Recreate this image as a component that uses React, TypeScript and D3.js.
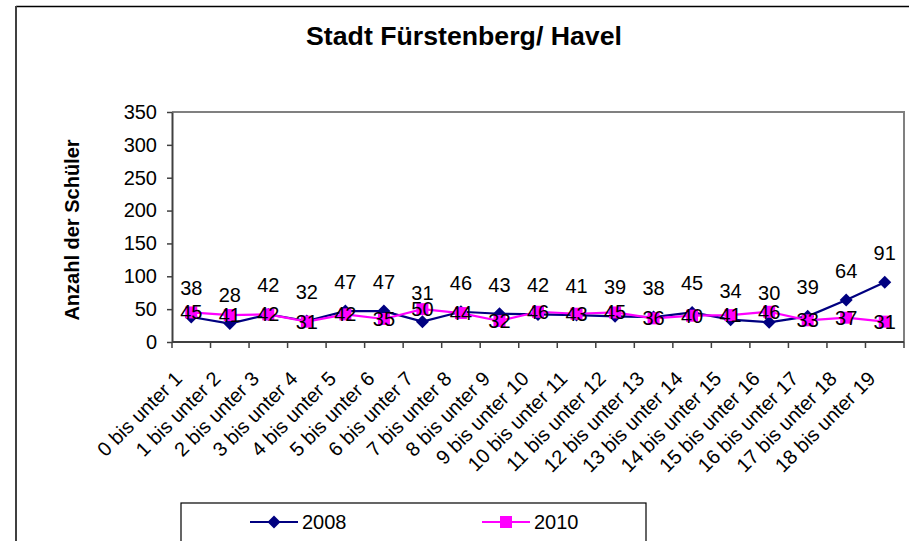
import { useEffect, useRef } from 'react'
import * as d3 from 'd3'

const categories = [
  '0 bis unter 1',
  '1 bis unter 2',
  '2 bis unter 3',
  '3 bis unter 4',
  '4 bis unter 5',
  '5 bis unter 6',
  '6 bis unter 7',
  '7 bis unter 8',
  '8 bis unter 9',
  '9 bis unter 10',
  '10 bis unter 11',
  '11 bis unter 12',
  '12 bis unter 13',
  '13 bis unter 14',
  '14 bis unter 15',
  '15 bis unter 16',
  '16 bis unter 17',
  '17 bis unter 18',
  '18 bis unter 19',
]
const values2008 = [38, 28, 42, 32, 47, 47, 31, 46, 43, 42, 41, 39, 38, 45, 34, 30, 39, 64, 91]
const values2010 = [45, 41, 42, 31, 42, 35, 50, 44, 32, 46, 43, 45, 36, 40, 41, 46, 33, 37, 31]
const yTicks = [0, 50, 100, 150, 200, 250, 300, 350]
const seriesNames = ['2008', '2010']

const FONT = '"Liberation Sans", Arial, Helvetica, sans-serif'
const NAVY = '#000080'
const MAGENTA = '#ff00ff'

export default function App() {
  const ref = useRef<SVGSVGElement>(null)

  useEffect(() => {
    if (!ref.current) return
    const width = 909
    const height = 541
    const plot = { left: 172, right: 904, top: 112, bottom: 342 }

    const svg = d3.select(ref.current)
    svg.selectAll('*').remove()

    const x = d3.scaleBand<string>().domain(categories).range([plot.left, plot.right])
    const y = d3.scaleLinear().domain([0, 350]).range([plot.bottom, plot.top])
    const cx = (i: number) => (x(categories[i]) as number) + x.bandwidth() / 2

    svg.append('rect').attr('width', width).attr('height', height).attr('fill', '#fff')

    // outer chart frame (cut off at right and bottom)
    svg.append('line').attr('x1', 16).attr('x2', width).attr('y1', 6.5).attr('y2', 6.5)
      .attr('stroke', '#000').attr('stroke-width', 1.5)
    svg.append('line').attr('x1', 16).attr('x2', 16).attr('y1', 6).attr('y2', height)
      .attr('stroke', '#404040').attr('stroke-width', 2)

    svg.append('text')
      .attr('x', 464).attr('y', 45)
      .attr('text-anchor', 'middle')
      .attr('font-family', FONT).attr('font-weight', 'bold').attr('font-size', 26.7)
      .text('Stadt Fürstenberg/ Havel')

    // plot area frame
    svg.append('path')
      .attr('d', `M${plot.left},${plot.top}H${plot.right}V${plot.bottom}`)
      .attr('fill', 'none').attr('stroke', '#808080').attr('stroke-width', 2)

    // y axis
    const yAxis = svg.append('g')
      .attr('transform', `translate(${plot.left},0)`)
      .call(d3.axisLeft(y).tickValues(yTicks).tickSize(5).tickSizeOuter(0).tickPadding(10))
    yAxis.attr('font-family', FONT).attr('font-size', 20)
    yAxis.select('.domain').attr('stroke', '#404040').attr('stroke-width', 2)
    yAxis.selectAll('.tick line').attr('stroke', '#404040').attr('stroke-width', 1.5)
    yAxis.selectAll('.tick text').attr('fill', '#000')

    // x axis: ticks between categories
    const xAxis = svg.append('g')
    xAxis.append('line')
      .attr('x1', plot.left).attr('x2', plot.right).attr('y1', plot.bottom).attr('y2', plot.bottom)
      .attr('stroke', '#404040').attr('stroke-width', 2)
    const bounds = categories.map((c) => x(c) as number).concat([plot.right])
    xAxis.selectAll('line.tick')
      .data(bounds)
      .join('line')
      .attr('class', 'tick')
      .attr('x1', (d) => d).attr('x2', (d) => d)
      .attr('y1', plot.bottom).attr('y2', plot.bottom + 6)
      .attr('stroke', '#404040').attr('stroke-width', 1.5)
    xAxis.selectAll('text')
      .data(categories)
      .join('text')
      .attr('transform', (d, i) => `translate(${cx(i) - 8},380) rotate(-45)`)
      .attr('text-anchor', 'end')
      .attr('font-family', FONT).attr('font-size', 20)
      .text((d) => d)

    // y axis title
    svg.append('text')
      .attr('transform', `translate(72,230) rotate(-90)`)
      .attr('text-anchor', 'middle')
      .attr('dominant-baseline', 'central')
      .attr('font-family', FONT).attr('font-weight', 'bold').attr('font-size', 20)
      .text('Anzahl der Schüler')

    const line = d3.line<number>().x((d, i) => cx(i)).y((d) => y(d))
    const diamond = (px: number, py: number, r: number) =>
      `M${px},${py - r}L${px + r},${py}L${px},${py + r}L${px - r},${py}Z`

    // 2008
    svg.append('path').datum(values2008)
      .attr('fill', 'none').attr('stroke', NAVY).attr('stroke-width', 2.2).attr('d', line)
    svg.append('g').selectAll('path')
      .data(values2008)
      .join('path')
      .attr('d', (d, i) => diamond(cx(i), y(d), 6.5))
      .attr('fill', NAVY)

    // 2010
    svg.append('path').datum(values2010)
      .attr('fill', 'none').attr('stroke', MAGENTA).attr('stroke-width', 2.2).attr('d', line)
    svg.append('g').selectAll('rect')
      .data(values2010)
      .join('rect')
      .attr('x', (d, i) => cx(i) - 6).attr('y', (d) => y(d) - 6)
      .attr('width', 12).attr('height', 12)
      .attr('fill', MAGENTA)

    // data labels
    svg.append('g').selectAll('text')
      .data(values2008)
      .join('text')
      .attr('x', (d, i) => cx(i)).attr('y', (d) => y(d) - 22)
      .attr('text-anchor', 'middle')
      .attr('font-family', FONT).attr('font-size', 20)
      .text((d) => d)
    svg.append('g').selectAll('text')
      .data(values2010)
      .join('text')
      .attr('x', (d, i) => cx(i)).attr('y', (d) => y(d) + 7)
      .attr('text-anchor', 'middle')
      .attr('font-family', FONT).attr('font-size', 20)
      .text((d) => d)

    // legend
    const legend = svg.append('g')
    legend.append('rect')
      .attr('x', 181).attr('y', 503).attr('width', 465).attr('height', 60)
      .attr('fill', '#fff').attr('stroke', '#000').attr('stroke-width', 1.2)
    const items = [
      { name: seriesNames[0], color: NAVY, x0: 250, shape: 'diamond' },
      { name: seriesNames[1], color: MAGENTA, x0: 482, shape: 'square' },
    ]
    items.forEach((it) => {
      const ly = 522
      legend.append('line')
        .attr('x1', it.x0).attr('x2', it.x0 + 48).attr('y1', ly).attr('y2', ly)
        .attr('stroke', it.color).attr('stroke-width', 2.2)
      if (it.shape === 'diamond') {
        legend.append('path').attr('d', diamond(it.x0 + 24, ly, 6.5)).attr('fill', it.color)
      } else {
        legend.append('rect')
          .attr('x', it.x0 + 18).attr('y', ly - 6).attr('width', 12).attr('height', 12)
          .attr('fill', it.color)
      }
      legend.append('text')
        .attr('x', it.x0 + 52).attr('y', ly + 7)
        .attr('font-family', FONT).attr('font-size', 20)
        .text(it.name)
    })
  }, [])

  return (
    <div style={{ position: 'absolute', left: 0, top: 0 }}>
      <svg ref={ref} width={909} height={541} style={{ display: 'block' }} />
    </div>
  )
}
